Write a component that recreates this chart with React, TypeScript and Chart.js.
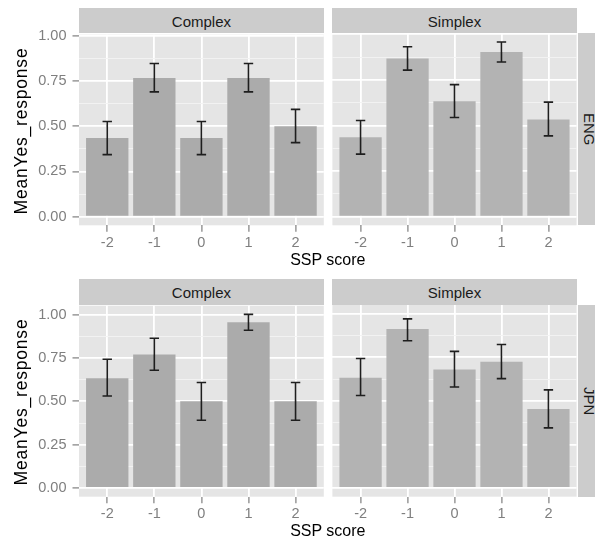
import React, { useEffect, useRef } from 'react';
import { Chart, registerables } from 'chart.js';

Chart.register(...registerables);

// ---------- data ----------
const SSP_SCORES = [-2, -1, 0, 1, 2];
const SSP_LABELS = ['-2', '-1', '0', '1', '2'];
const CONDITIONS = ['Complex', 'Simplex'];
const LANGUAGES = ['ENG', 'JPN'];

const ENG_COMPLEX_MEAN = [0.435, 0.767, 0.435, 0.767, 0.5];
const ENG_COMPLEX_LOWER = [0.343, 0.69, 0.343, 0.69, 0.409];
const ENG_COMPLEX_UPPER = [0.526, 0.847, 0.526, 0.847, 0.593];

const ENG_SIMPLEX_MEAN = [0.435, 0.867, 0.633, 0.903, 0.533];
const ENG_SIMPLEX_LOWER = [0.343, 0.804, 0.544, 0.848, 0.443];
const ENG_SIMPLEX_UPPER = [0.527, 0.932, 0.724, 0.958, 0.628];

const JPN_COMPLEX_MEAN = [0.633, 0.77, 0.5, 0.956, 0.5];
const JPN_COMPLEX_LOWER = [0.531, 0.68, 0.391, 0.91, 0.391];
const JPN_COMPLEX_UPPER = [0.743, 0.864, 0.609, 1.002, 0.609];

const JPN_SIMPLEX_MEAN = [0.633, 0.912, 0.68, 0.724, 0.454];
const JPN_SIMPLEX_LOWER = [0.531, 0.845, 0.58, 0.628, 0.345];
const JPN_SIMPLEX_UPPER = [0.743, 0.971, 0.784, 0.824, 0.563];

const Y_MAJOR = [0, 0.25, 0.5, 0.75, 1];
const Y_MAJOR_LABELS = ['0.00', '0.25', '0.50', '0.75', '1.00'];
const Y_MINOR = [0.125, 0.375, 0.625, 0.875];

const X_TITLE = 'SSP score';
const Y_TITLE = 'MeanYes_response';

// ---------- style / layout ----------
const FONT = "'Liberation Sans', Arial, Helvetica, sans-serif";
const PANEL_BG = '#E5E5E5';
const STRIP_BG = '#CCCCCC';
const AXIS_GREY = '#7F7F7F';
const FILLS = ['#ABABAB', '#B3B3B3'];
const ERR_HALF = 0.1; // errorbar width 0.2
const X_EXPAND = 0.6;

const ROW_OFFSET = [0, 271.4];
const STRIP_TOP = 8;
const PANEL_TOP = 33.3;
const PANEL_BOTTOM = 225.3;
const COLS = [
  { x0: 79, x1: 323.8, cl: 0, cw: 328 },
  { x0: 332.4, x1: 576.6, cl: 328, cw: 267 },
];
const ROW_CANVAS = [
  { ct: 20, ch: 250 },
  { ct: 291, ch: 247 },
];

type PanelProps = {
  mean: number[];
  lower: number[];
  upper: number[];
  yMin: number;
  yMax: number;
  col: number;
  row: number;
};

function Panel({ mean, lower, upper, yMin, yMax, col, row }: PanelProps) {
  const ref = useRef<HTMLCanvasElement>(null);
  const c = COLS[col];
  const rc = ROW_CANVAS[row];
  const off = ROW_OFFSET[row];
  const showY = col === 0;

  useEffect(() => {
    if (!ref.current) return;
    const panelTop = PANEL_TOP + off;
    const panelBottom = PANEL_BOTTOM + off;
    const yAxisW = showY ? c.x0 - c.cl : 0;
    const pad = {
      left: showY ? 0 : c.x0 - c.cl,
      right: c.cl + c.cw - c.x1,
      top: panelTop - rc.ct,
      bottom: 0,
    };
    const xAxisH = rc.ct + rc.ch - panelBottom;
    const isMajor = (v: number) => Y_MAJOR.some((m) => Math.abs(m - v) < 1e-9);

    const bgPlugin = {
      id: 'panelBg',
      beforeDraw(chart: any) {
        const { ctx, chartArea: a } = chart;
        ctx.save();
        ctx.fillStyle = PANEL_BG;
        ctx.fillRect(a.left, a.top, a.right - a.left, a.bottom - a.top);
        ctx.restore();
      },
    };
    const errPlugin = {
      id: 'errBars',
      afterDatasetsDraw(chart: any) {
        const xs = chart.scales.x;
        const ys = chart.scales.y;
        const ctx = chart.ctx;
        ctx.save();
        ctx.strokeStyle = '#1E1E1E';
        ctx.lineWidth = 1.6;
        SSP_SCORES.forEach((s, i) => {
          const cx = xs.getPixelForValue(s);
          const hw = xs.getPixelForValue(s + ERR_HALF) - cx;
          const yt = ys.getPixelForValue(upper[i]);
          const yb = ys.getPixelForValue(lower[i]);
          ctx.beginPath();
          ctx.moveTo(cx, yt);
          ctx.lineTo(cx, yb);
          ctx.moveTo(cx - hw, yt);
          ctx.lineTo(cx + hw, yt);
          ctx.moveTo(cx - hw, yb);
          ctx.lineTo(cx + hw, yb);
          ctx.stroke();
        });
        ctx.restore();
      },
    };

    const chart = new Chart(ref.current, {
      type: 'bar',
      data: {
        datasets: [
          {
            data: SSP_SCORES.map((s, i) => ({ x: s, y: mean[i] })),
            backgroundColor: FILLS[col],
            borderWidth: 0,
            barPercentage: 0.9,
            categoryPercentage: 1,
          } as any,
        ],
      },
      options: {
        animation: false,
        responsive: false,
        events: [],
        layout: { padding: pad },
        plugins: {
          legend: { display: false },
          tooltip: { enabled: false },
          title: { display: false },
        },
        scales: {
          x: {
            type: 'linear',
            min: SSP_SCORES[0] - X_EXPAND,
            max: SSP_SCORES[SSP_SCORES.length - 1] + X_EXPAND,
            offset: false,
            afterBuildTicks: (s: any) => {
              s.ticks = SSP_SCORES.map((v) => ({ value: v }));
            },
            afterFit: (s: any) => {
              s.height = xAxisH;
            },
            grid: {
              offset: false,
              color: '#FFFFFF',
              lineWidth: 1.8,
              tickColor: AXIS_GREY,
              tickLength: 6.5,
              tickWidth: 1.2,
            },
            border: { display: false },
            ticks: {
              autoSkip: false,
              maxRotation: 0,
              padding: 2,
              color: AXIS_GREY,
              font: { family: FONT, size: 14.5 },
              callback: (v: any) => {
                const i = SSP_SCORES.indexOf(Number(v));
                return i >= 0 ? SSP_LABELS[i] : '';
              },
            },
          },
          y: {
            type: 'linear',
            min: yMin,
            max: yMax,
            afterBuildTicks: (s: any) => {
              s.ticks = [...Y_MAJOR, ...Y_MINOR]
                .filter((v) => v >= yMin && v <= yMax)
                .sort((a, b) => a - b)
                .map((v) => ({ value: v }));
            },
            afterFit: (s: any) => {
              s.width = yAxisW;
            },
            grid: {
              drawTicks: showY,
              color: (ctx: any) => (isMajor(ctx.tick?.value) ? '#FFFFFF' : '#F3F3F3'),
              lineWidth: (ctx: any) => (isMajor(ctx.tick?.value) ? 1.8 : 0.9),
              tickColor: (ctx: any) => (isMajor(ctx.tick?.value) ? AXIS_GREY : 'rgba(0,0,0,0)'),
              tickLength: 6.5,
              tickWidth: 1.2,
            },
            border: { display: false },
            ticks: {
              display: showY,
              autoSkip: false,
              padding: 6,
              color: AXIS_GREY,
              font: { family: FONT, size: 14.5 },
              callback: (v: any) => {
                const i = Y_MAJOR.findIndex((m) => Math.abs(m - Number(v)) < 1e-9);
                return i >= 0 ? Y_MAJOR_LABELS[i] : '';
              },
            },
          },
        } as any,
      },
      plugins: [bgPlugin, errPlugin],
    });
    return () => chart.destroy();
  }, []);

  return (
    <canvas
      ref={ref}
      width={c.cw}
      height={rc.ch}
      style={{ position: 'absolute', left: c.cl, top: rc.ct, width: c.cw, height: rc.ch }}
    />
  );
}

function rowLimits(uppers: number[][]) {
  const hi = Math.max(0, ...uppers.flat());
  const lo = 0;
  const span = hi - lo;
  return { yMin: lo - 0.05 * span, yMax: hi + 0.05 * span };
}

export default function App() {
  const rows = [
    {
      lang: LANGUAGES[0],
      panels: [
        { mean: ENG_COMPLEX_MEAN, lower: ENG_COMPLEX_LOWER, upper: ENG_COMPLEX_UPPER },
        { mean: ENG_SIMPLEX_MEAN, lower: ENG_SIMPLEX_LOWER, upper: ENG_SIMPLEX_UPPER },
      ],
    },
    {
      lang: LANGUAGES[1],
      panels: [
        { mean: JPN_COMPLEX_MEAN, lower: JPN_COMPLEX_LOWER, upper: JPN_COMPLEX_UPPER },
        { mean: JPN_SIMPLEX_MEAN, lower: JPN_SIMPLEX_LOWER, upper: JPN_SIMPLEX_UPPER },
      ],
    },
  ];

  const textBase: React.CSSProperties = { fontFamily: FONT, position: 'absolute', whiteSpace: 'nowrap' };

  return (
    <div
      style={{
        position: 'absolute',
        left: 0,
        top: 0,
        width: 595,
        height: 538,
        overflow: 'hidden',
        background: '#FFFFFF',
      }}
    >
      {rows.map((r, ri) => {
        const lim = rowLimits(r.panels.map((p) => p.upper));
        return r.panels.map((p, ci) => (
          <Panel
            key={`p-${ri}-${ci}`}
            mean={p.mean}
            lower={p.lower}
            upper={p.upper}
            yMin={lim.yMin}
            yMax={lim.yMax}
            col={ci}
            row={ri}
          />
        ));
      })}
      {rows.map((r, ri) => {
        const off = ROW_OFFSET[ri];
        const panelH = PANEL_BOTTOM - PANEL_TOP;
        return (
          <React.Fragment key={`t-${ri}`}>
            {COLS.map((c, ci) => (
              <div
                key={`s-${ci}`}
                style={{
                  ...textBase,
                  left: c.x0,
                  top: STRIP_TOP + off,
                  width: c.x1 - c.x0,
                  height: PANEL_TOP - STRIP_TOP,
                  boxSizing: 'border-box',
                  paddingTop: 2.8,
                  lineHeight: '22.5px',
                  background: STRIP_BG,
                  color: '#1A1A1A',
                  fontSize: 15,
                  textAlign: 'center',
                }}
              >
                {CONDITIONS[ci]}
              </div>
            ))}
            <div
              style={{
                ...textBase,
                left: 578,
                top: PANEL_TOP + off,
                width: 22,
                height: panelH,
                background: STRIP_BG,
                color: '#1A1A1A',
                fontSize: 15,
                writingMode: 'vertical-rl',
                display: 'flex',
                alignItems: 'center',
                justifyContent: 'center',
                lineHeight: '22px',
              }}
            >
              {r.lang}
            </div>
            <div
              style={{
                ...textBase,
                left: 327.8 - 100,
                top: 251.5 + off,
                width: 200,
                height: 16,
                lineHeight: '16px',
                fontSize: 16,
                color: '#000000',
                textAlign: 'center',
              }}
            >
              {X_TITLE}
            </div>
            <div
              style={{
                ...textBase,
                left: 21.3 - 110,
                top: 130.5 + off - 10,
                width: 220,
                height: 20,
                lineHeight: '20px',
                fontSize: 17.5,
                letterSpacing: '0.8px',
                color: '#000000',
                textAlign: 'center',
                transform: 'rotate(-90deg)',
                transformOrigin: '50% 50%',
              }}
            >
              {Y_TITLE}
            </div>
          </React.Fragment>
        );
      })}
    </div>
  );
}
